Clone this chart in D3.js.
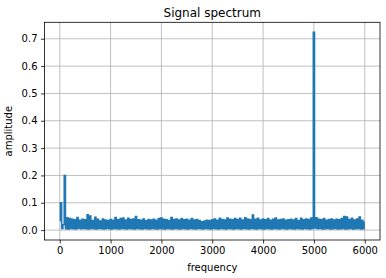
<!DOCTYPE html>
<html>
<head>
<meta charset="utf-8">
<script src="https://cdn.jsdelivr.net/npm/d3@7"></script>
<style>
  body { margin: 0; background: #fff; }
  text { font-family: "DejaVu Sans", sans-serif; fill: #000; }
</style>
</head>
<body>
<div id="chart"></div>
<script>
let step = 25;
let amps = [
  0.035,0.10,0.006,0.02,0.20,0.005,0.045,0.004,0.042,0.006,0.04,0.005,0.038,0.004,0.046,0.007,0.036,0.005,0.04,0.006,
  0.038,0.005,0.056,0.004,0.052,0.006,0.035,0.005,0.047,0.004,0.04,0.006,0.033,0.005,0.041,0.004,0.037,0.006,0.035,0.005,
  0.039,0.004,0.036,0.006,0.046,0.005,0.038,0.004,0.042,0.006,0.044,0.005,0.037,0.004,0.043,0.006,0.039,0.005,0.041,0.004,
  0.05,0.006,0.038,0.005,0.036,0.004,0.041,0.006,0.034,0.005,0.039,0.004,0.037,0.006,0.04,0.005,0.036,0.004,0.042,0.006,
  0.044,0.005,0.04,0.004,0.038,0.006,0.035,0.005,0.046,0.004,0.039,0.006,0.041,0.005,0.037,0.004,0.042,0.006,0.038,0.005,
  0.04,0.004,0.036,0.006,0.042,0.005,0.037,0.004,0.039,0.006,0.035,0.005,0.031,0.004,0.033,0.006,0.036,0.005,0.034,0.004,
  0.038,0.006,0.041,0.005,0.036,0.004,0.043,0.006,0.039,0.005,0.037,0.004,0.044,0.006,0.04,0.005,0.038,0.004,0.042,0.006,
  0.039,0.005,0.043,0.004,0.037,0.006,0.045,0.005,0.041,0.004,0.038,0.006,0.055,0.005,0.04,0.004,0.043,0.006,0.037,0.005,
  0.041,0.004,0.038,0.006,0.042,0.005,0.036,0.004,0.04,0.006,0.044,0.005,0.037,0.004,0.039,0.006,0.041,0.005,0.036,0.004,
  0.038,0.006,0.04,0.005,0.037,0.004,0.042,0.006,0.035,0.005,0.043,0.004,0.038,0.006,0.041,0.005,0.039,0.004,0.044,0.006,
  0.724,0.008,0.045,0.005,0.04,0.006,0.038,0.004,0.042,0.005,0.036,0.006,0.039,0.004,0.041,0.005,0.037,0.006,0.04,0.004,
  0.038,0.005,0.042,0.006,0.05,0.004,0.048,0.005,0.039,0.006,0.043,0.004,0.037,0.005,0.041,0.006,0.048,0.004,0.036,0.005,
  0.03
];
let xTicks = [0, 1000, 2000, 3000, 4000, 5000, 6000];
let yTicks = [0, 0.1, 0.2, 0.3, 0.4, 0.5, 0.6, 0.7];

let data = amps.map((a, i) => ({ freq: i * step, amp: a }));

let dim = { width: 386, height: 278 };
let plot = { left: 44.5, right: 380, top: 22.3, bottom: 240 };

let svg = d3.select("#chart").append("svg")
  .attr("width", dim.width)
  .attr("height", dim.height);

let scaleX = d3.scaleLinear()
  .domain([-300, 6300])
  .range([plot.left, plot.right]);

let scaleY = d3.scaleLinear()
  .domain([-0.0362, 0.7602])
  .range([plot.bottom, plot.top]);

// grid
let grid = svg.append("g").attr("stroke", "#b0b0b0").attr("stroke-width", 0.8);
grid.selectAll(".gx").data(xTicks).join("line")
  .attr("x1", d => scaleX(d)).attr("x2", d => scaleX(d))
  .attr("y1", plot.top).attr("y2", plot.bottom);
grid.selectAll(".gy").data(yTicks).join("line")
  .attr("y1", d => scaleY(d)).attr("y2", d => scaleY(d))
  .attr("x1", plot.left).attr("x2", plot.right);

// spectrum line (step curve so the dense noise reads as a solid band)
let line = d3.line()
  .curve(d3.curveStep)
  .x(d => scaleX(d.freq))
  .y(d => scaleY(d.amp));

svg.append("path")
  .datum(data)
  .attr("fill", "none")
  .attr("stroke", "#1f77b4")
  .attr("stroke-width", 1.5)
  .attr("d", line);

// axes
let axisX = svg.append("g")
  .attr("transform", `translate(0, ${plot.bottom})`)
  .call(d3.axisBottom(scaleX).tickValues(xTicks).tickFormat(d3.format("d")).tickSizeOuter(0).tickSize(3.5).tickPadding(3.5));

let axisY = svg.append("g")
  .attr("transform", `translate(${plot.left}, 0)`)
  .call(d3.axisLeft(scaleY).tickValues(yTicks).tickFormat(d3.format(".1f")).tickSizeOuter(0).tickSize(3.5).tickPadding(3.5));

[axisX, axisY].forEach(a => {
  a.select(".domain").remove();
  a.selectAll("line").attr("stroke", "#000").attr("stroke-width", 0.8);
  a.selectAll("text").attr("font-size", "10px").attr("font-family", "DejaVu Sans").attr("fill", "#000");
});

// frame
svg.append("rect")
  .attr("x", plot.left).attr("y", plot.top)
  .attr("width", plot.right - plot.left)
  .attr("height", plot.bottom - plot.top)
  .attr("fill", "none")
  .attr("stroke", "#000")
  .attr("stroke-width", 0.8);

let cx = (plot.left + plot.right) / 2;

svg.append("text")
  .attr("x", cx).attr("y", 16.5)
  .attr("text-anchor", "middle")
  .attr("font-size", "12px")
  .text("Signal spectrum");

svg.append("text")
  .attr("x", cx).attr("y", 271)
  .attr("text-anchor", "middle")
  .attr("font-size", "10px")
  .text("frequency");

svg.append("text")
  .attr("transform", `translate(12, ${(plot.top + plot.bottom) / 2}) rotate(-90)`)
  .attr("text-anchor", "middle")
  .attr("font-size", "10px")
  .text("amplitude");
</script>
</body>
</html>
